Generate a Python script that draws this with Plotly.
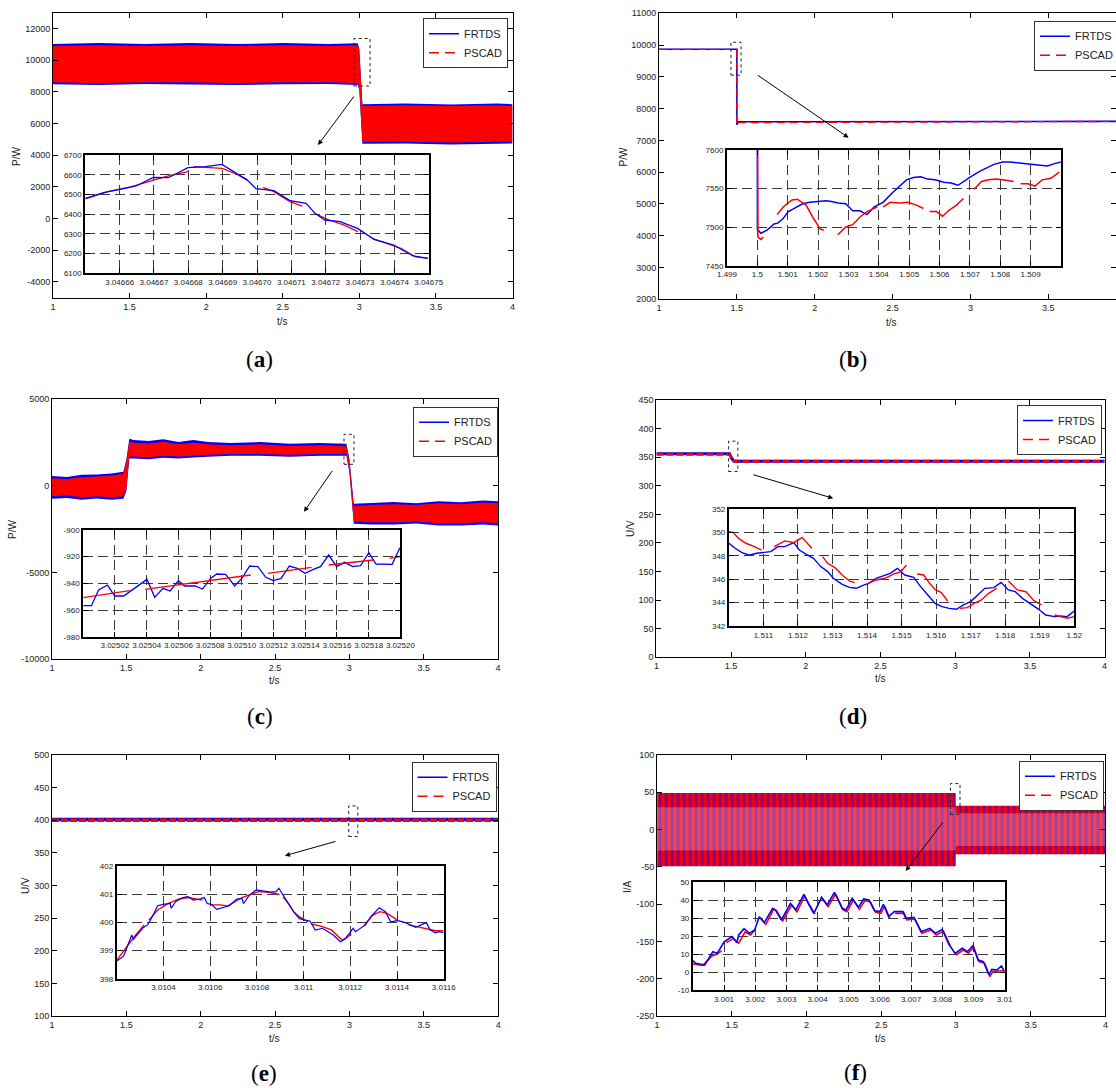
import plotly.graph_objects as go

W, H = 1116, 1088
BLUE, RED = "#0000ff", "#ff0000"
FONT = "Liberation Sans, Arial, Helvetica, sans-serif"
SERIF = "Liberation Serif, Times New Roman, serif"

# ======================= DATA =======================
main_x_ticks = [1, 1.5, 2, 2.5, 3, 3.5, 4]

# ---- (a) active power, band envelopes ----
a_y_ticks = [-4000, -2000, 0, 2000, 4000, 6000, 8000, 10000, 12000]
a_t = [1.0, 1.3, 1.6, 1.9, 2.2, 2.5, 2.8, 2.99, 3.0, 3.02, 3.3, 3.6, 3.9, 4.0]
a_red_hi = [10900, 10950, 10900, 10950, 10900, 10950, 10900, 10950, 10600, 7100, 7150, 7100, 7150, 7100]
a_red_lo = [8600, 8550, 8600, 8600, 8550, 8600, 8600, 8550, 8200, 4850, 4850, 4800, 4850, 4850]
a_blu_hi = [11020, 11080, 11030, 11080, 11020, 11080, 11030, 11070, 10700, 7220, 7270, 7210, 7270, 7220]
a_blu_lo = [8480, 8430, 8490, 8470, 8430, 8480, 8490, 8430, 8100, 4730, 4740, 4680, 4730, 4740]
a_in_x_ticks = [3.04666, 3.04667, 3.04668, 3.04669, 3.04670, 3.04671, 3.04672, 3.04673, 3.04674, 3.04675]
a_in_x_text = ["3.04666", "3.04667", "3.04668", "3.04669", "3.04670", "3.04671", "3.04672", "3.04673", "3.04674", "3.04675"]
a_in_y_ticks = [6100, 6200, 6300, 6400, 6500, 6600, 6700]
a_in_t_frtds = [3.0466500, 3.0466554, 3.0466648, 3.0466698, 3.0466742, 3.0466799, 3.0466851, 3.0466898,
                3.0466940, 3.0466971, 3.0466997, 3.0467049, 3.0467096, 3.0467143, 3.0467169, 3.0467198,
                3.0467242, 3.0467294, 3.0467341, 3.0467398, 3.0467455, 3.0467498]
a_in_frtds = [6481, 6510, 6544, 6588, 6586, 6637, 6642, 6654, 6608, 6575, 6530, 6520, 6470, 6456, 6405,
              6371, 6363, 6327, 6273, 6244, 6188, 6176]
a_in_t_pscad = [3.0466500, 3.0466565, 3.0466627, 3.0466690, 3.0466742, 3.0466799, None,
                3.0466815, 3.0466851, 3.0466898, 3.0466940, 3.0466971, None,
                3.0467018, 3.0467049, 3.0467096, 3.0467132, None,
                3.0467174, 3.0467210, 3.0467252, 3.0467294, None,
                3.0467335, 3.0467377, 3.0467419, 3.0467460, 3.0467497]
a_in_pscad = [6478, 6515, 6537, 6569, 6595, 6617, None,
              6642, 6639, 6634, 6605, 6575, None,
              6537, 6515, 6464, 6442, None,
              6400, 6371, 6346, 6312, None,
              6278, 6253, 6227, 6185, 6176]

# ---- (b) active power step ----
b_y_ticks = [2000, 3000, 4000, 5000, 6000, 7000, 8000, 9000, 10000, 11000]
b_x_ticks = [1, 1.5, 2, 2.5, 3, 3.5]
b_t = [1.0, 1.5, 1.5, 1.502, 1.51, 4.0]
b_frtds = [9870, 9870, 7495, 7530, 7585, 7600]
b_pscad = [9865, 9865, 7485, 7535, 7560, 7600]
b_in_x_ticks = [1.499, 1.5, 1.501, 1.502, 1.503, 1.504, 1.505, 1.506, 1.507, 1.508, 1.509]
b_in_x_text = ["1.499", "1.5", "1.501", "1.502", "1.503", "1.504", "1.505", "1.506", "1.507", "1.508", "1.509"]
b_in_y_ticks = [7450, 7500, 7550, 7600]
b_in_t_frtds = [1.5, 1.5, 1.50012, 1.50032, 1.50055, 1.50067, 1.50085, 1.50102, 1.50126, 1.50149, 1.50173,
                1.50196, 1.50226, 1.50244, 1.50267, 1.50291, 1.50314, 1.50338, 1.50361, 1.50385, 1.50414,
                1.50444, 1.50467, 1.50491, 1.50514, 1.50538, 1.50561, 1.50585, 1.50614, 1.50638, 1.50661,
                1.50679, 1.50702, 1.50732, 1.50755, 1.50779, 1.50808, 1.50832, 1.50855, 1.50879, 1.50902,
                1.50932, 1.50955, 1.50979, 1.51]
b_in_frtds = [7700, 7497, 7492, 7496, 7504, 7505, 7511, 7520, 7525, 7530, 7532,
              7533, 7534, 7533, 7531, 7530, 7521, 7521, 7516, 7526, 7532,
              7544, 7552, 7561, 7564, 7565, 7562, 7561, 7558, 7557, 7554,
              7559, 7565, 7572, 7576, 7581, 7584, 7584, 7583, 7582, 7581,
              7580, 7579, 7582, 7584]
b_in_t_pscad = [1.5, 1.50002, 1.50011, 1.5002, None,
                1.50065, 1.50085, 1.50114, 1.50132, 1.50161, 1.50185, 1.50208, 1.5022, None,
                1.50265, 1.50291, 1.50314, 1.50338, 1.50361, 1.50396, None,
                1.50414, 1.50438, 1.50467, 1.50496, 1.50526, 1.50547, None,
                1.50567, 1.5059, 1.5061, 1.50632, 1.50655, 1.50679, None,
                1.50714, 1.50738, 1.50761, 1.50785, 1.50808, 1.50844, None,
                1.50867, 1.50891, 1.50914, 1.50938, 1.50967, 1.50994]
b_in_pscad = [7700, 7487, 7484, 7487, None,
              7516, 7526, 7535, 7536, 7528, 7511, 7497, 7496, None,
              7490, 7500, 7503, 7513, 7520, 7526, None,
              7526, 7532, 7531, 7532, 7528, 7524, None,
              7520, 7520, 7514, 7522, 7528, 7537, None,
              7549, 7559, 7561, 7562, 7561, 7559, None,
              7556, 7556, 7553, 7561, 7563, 7571]

# ---- (c) active power, band envelopes ----
c_y_ticks = [-10000, -5000, 0, 5000]
c_t = [1.0, 1.1, 1.2, 1.3, 1.4, 1.48, 1.5, 1.52, 1.55, 1.65, 1.75, 1.85, 1.95, 2.05, 2.2, 2.4, 2.6,
       2.8, 2.98, 3.0, 3.03, 3.15, 3.3, 3.45, 3.6, 3.75, 3.9, 4.0]
c_red_hi = [450, 400, 500, 550, 600, 700, 1400, 2550, 2500, 2450, 2550, 2400, 2500, 2400, 2350, 2400, 2300,
            2350, 2300, 1500, -1150, -1100, -1050, -1100, -1000, -1050, -950, -1000]
c_red_lo = [-600, -550, -650, -600, -650, -600, -200, 1700, 1700, 1650, 1750, 1700, 1750, 1800, 1850, 1850, 1800,
            1850, 1850, 900, -2050, -2100, -2100, -2050, -2150, -2150, -2100, -2150]
c_blu_hi = [580, 520, 640, 660, 720, 820, 1500, 2720, 2650, 2600, 2700, 2540, 2650, 2530, 2480, 2530, 2430,
            2480, 2430, 1600, -1030, -980, -930, -990, -880, -940, -840, -880]
c_blu_lo = [-740, -690, -790, -730, -800, -740, -300, 1590, 1580, 1540, 1630, 1590, 1640, 1690, 1740, 1740, 1690,
            1740, 1740, 800, -2180, -2230, -2230, -2170, -2280, -2280, -2230, -2280]
c_in_x_ticks = [3.02502, 3.02504, 3.02506, 3.02508, 3.02510, 3.02512, 3.02514, 3.02516, 3.02518, 3.02520]
c_in_x_text = ["3.02502", "3.02504", "3.02506", "3.02508", "3.02510", "3.02512", "3.02514", "3.02516", "3.02518", "3.02520"]
c_in_y_ticks = [-980, -960, -940, -920, -900]
c_in_t_frtds = [3.025, 3.0250052, 3.0250097, 3.0250153, 3.0250199, 3.0250255, 3.0250323, 3.0250402, 3.0250451,
                3.0250503, 3.0250548, 3.02506, 3.0250639, 3.0250706, 3.0250752, 3.0250803, 3.0250842, 3.0250898,
                3.0250955, 3.0251, 3.025105, 3.0251101, 3.0251151, 3.0251198, 3.0251248, 3.02513, 3.025135,
                3.0251399, 3.0251451, 3.0251496, 3.0251548, 3.0251598, 3.0251648, 3.02517, 3.0251749, 3.0251801,
                3.0251846, 3.0251948, 3.0251997]
c_in_frtds = [-956.75, -956.75, -945, -941.25, -949.5, -949.5, -943.75, -937, -950.5,
              -943.75, -945.75, -938, -942, -942, -944.25, -936.25, -933, -933.25,
              -942, -936.25, -927, -927.5, -935.5, -938, -936.25, -927, -928.75,
              -932.5, -929.5, -927.5, -918.75, -927.5, -924.25, -927.5, -926.75, -917,
              -925.5, -925.75, -913.25]
c_in_t_pscad = [3.025, 3.0250293, None, 3.025039, 3.0251056, None, 3.0251165, 3.025144, None,
                3.0251548, 3.0251828, None, 3.0251932, 3.0251997]
c_in_pscad = [-950.75, -945.5, None, -944.5, -933.75, None, -932.5, -928, None,
              -926.25, -922.5, None, -921.25, -920]

# ---- (d) voltage ----
d_y_ticks = [0, 50, 100, 150, 200, 250, 300, 350, 400, 450]
d_t = [1.0, 1.49, 1.5, 1.52, 4.0]
d_frtds = [356, 356, 349, 343, 343]
d_pscad = [355, 355, 350, 343, 343]
d_in_x_ticks = [1.511, 1.512, 1.513, 1.514, 1.515, 1.516, 1.517, 1.518, 1.519, 1.52]
d_in_x_text = ["1.511", "1.512", "1.513", "1.514", "1.515", "1.516", "1.517", "1.518", "1.519", "1.52"]
d_in_y_ticks = [342, 344, 346, 348, 350, 352]
d_in_t_frtds = [1.51, 1.51018, 1.51038, 1.51059, 1.5108, 1.511, 1.51121, 1.51142, 1.51162, 1.51188,
                1.51204, 1.51224, 1.51245, 1.51266, 1.51286, 1.51302, 1.51328, 1.51349, 1.51369, 1.5139,
                1.51405, 1.51426, 1.51447, 1.51467, 1.51488, 1.51509, 1.51535, 1.51555, 1.51576, 1.51597,
                1.51617, 1.51638, 1.51659, 1.51679, 1.517, 1.51721, 1.51741, 1.51767, 1.51788, 1.51809,
                1.51829, 1.5185, 1.51871, 1.51897, 1.51917, 1.51943, 1.51959, 1.51979, 1.52]
d_in_frtds = [349.09, 348.66, 348.29, 348.06, 348.23, 348.29, 348.37, 348.8, 348.8, 349.14,
              348.51, 348.14, 347.8, 347.09, 346.66, 346.09, 345.57, 345.31, 345.23, 345.51,
              345.66, 346.09, 346.29, 346.51, 346.94, 346.37, 346.17, 345.37, 344.66, 343.94,
              343.66, 343.51, 343.43, 343.8, 344.09, 344.66, 345.23, 345.29, 345.74, 345.09,
              344.94, 344.37, 343.94, 343.43, 342.94, 342.8, 342.86, 342.8, 343.29]
d_in_t_pscad = [1.51, 1.51012, 1.51028, 1.51049, 1.51074, 1.51095, None,
                1.51131, 1.51162, 1.51188, 1.51212, 1.5124, None,
                1.51271, 1.51286, 1.51307, 1.51328, 1.51349, 1.51364, None,
                1.51402, 1.51426, 1.51452, 1.51478, 1.51498, 1.51514, None,
                1.51545, 1.51564, 1.51581, 1.51597, 1.51615, 1.51633, None,
                1.51669, 1.5169, 1.5171, 1.51731, 1.51752, 1.51775, None,
                1.51809, 1.51835, 1.5186, 1.51881, 1.51905, None,
                1.51943, 1.51959, 1.51979, 1.52]
d_in_pscad = [350.09, 350.03, 349.51, 349.09, 348.8, 348.51, None,
              348.8, 349.29, 349.14, 349.6, 348.66, None,
              347.94, 347.37, 347.0, 346.37, 345.86, 345.71, None,
              345.66, 345.94, 346.09, 346.46, 346.66, 347.23, None,
              346.46, 346.37, 345.66, 345.14, 344.86, 344.14, None,
              343.51, 343.57, 343.94, 344.23, 344.8, 345.23, None,
              345.86, 345.09, 344.94, 344.23, 343.8, None,
              342.94, 342.8, 342.66, 342.8]

# ---- (e) voltage ----
e_y_ticks = [100, 150, 200, 250, 300, 350, 400, 450, 500]
e_t = [1.0, 4.0]
e_frtds = [401, 401]
e_pscad = [400, 400]
e_in_x_ticks = [3.0104, 3.0106, 3.0108, 3.011, 3.0112, 3.0114, 3.0116]
e_in_x_text = ["3.0104", "3.0106", "3.0108", "3.011", "3.0112", "3.0114", "3.0116"]
e_in_y_ticks = [398, 399, 400, 401, 402]
e_in_t_frtds = [3.0102, 3.010229, 3.010245, 3.010264, 3.010271, 3.010291, 3.010314, 3.010332, 3.010352,
                3.010375, 3.010398, 3.010429, 3.010433, 3.010452, 3.010482, 3.010505, 3.010528, 3.010551,
                3.010575, 3.010587, 3.010605, 3.010628, 3.010651, 3.010682, 3.010713, 3.010736, 3.010743,
                3.010766, 3.010797, 3.010828, 3.010858, 3.010882, 3.010894, 3.010912, 3.010935, 3.010958,
                3.010981, 3.011004, 3.011027, 3.01105, 3.011081, 3.0111, 3.011127, 3.011158, 3.011176,
                3.011196, 3.011212, 3.011222, 3.011242, 3.011265, 3.011288, 3.011324, 3.01135, 3.011373,
                3.011403, 3.011426, 3.011457, 3.01148, 3.011503, 3.011526, 3.011542, 3.011565, 3.01158, 3.0116]
e_in_frtds = [398.63, 398.8, 399.14, 399.55, 399.4, 399.61, 399.82, 399.91, 400.2,
              400.59, 400.64, 400.67, 400.5, 400.73, 400.88, 400.91, 400.79, 400.82,
              400.88, 400.67, 400.64, 400.46, 400.52, 400.59, 400.83, 400.85, 400.67,
              400.95, 401.15, 401.11, 401.07, 401.09, 401.21, 400.97, 400.67, 400.36,
              400.14, 400.08, 400.05, 399.73, 399.79, 399.69, 399.55, 399.31, 399.4,
              399.61, 399.79, 399.67, 399.79, 399.91, 400.2, 400.52, 400.38, 400.02,
              400.06, 400.02, 399.91, 399.82, 399.91, 399.99, 399.73, 399.63, 399.67, 399.63]
e_in_t_pscad = [3.0102, 3.010237, 3.010275, 3.010317, None,
                3.010337, 3.010375, 3.010421, 3.010467, 3.010505, 3.010544, 3.010567, None,
                3.010605, 3.010644, 3.010674, 3.010705, 3.010736, 3.010774, 3.010805, 3.010851, 3.010897, None,
                3.010912, 3.010935, 3.010958, 3.010981, 3.01102, None,
                3.011035, 3.011081, 3.011119, 3.01115, 3.011165, 3.011185, 3.011204, None,
                3.011258, 3.011296, 3.011327, 3.011357, 3.011403, None,
                3.01145, 3.011511, 3.011565, 3.0116]
e_in_pscad = [398.66, 399.08, 399.49, 399.91, None,
              400.08, 400.44, 400.67, 400.83, 400.88, 400.82, 400.79, None,
              400.62, 400.62, 400.58, 400.73, 400.88, 400.99, 401.09, 401.07, 400.99, None,
              400.91, 400.67, 400.38, 400.2, 400.02, None,
              399.94, 399.85, 399.73, 399.47, 399.37, 399.46, 399.59, None,
              399.88, 400.26, 400.38, 400.32, 400.08, None,
              399.91, 399.79, 399.7, 399.7]

# ---- (f) current, band envelopes ----
f_y_ticks = [-250, -200, -150, -100, -50, 0, 50, 100]
f_t = [1.0, 2.998, 2.999, 4.0]
f_hi = [49, 49, 32, 32]
f_lo = [-49, -49, -33, -33]
f_mid_hi = [30, 30, 22, 22]
f_mid_lo = [-28, -28, -22, -22]
f_in_x_ticks = [3.001, 3.002, 3.003, 3.004, 3.005, 3.006, 3.007, 3.008, 3.009, 3.01]
f_in_x_text = ["3.001", "3.002", "3.003", "3.004", "3.005", "3.006", "3.007", "3.008", "3.009", "3.01"]
f_in_y_ticks = [-10, 0, 10, 20, 30, 40, 50]
f_in_t_frtds = [3.0, 3.00009, 3.00038, 3.00064, 3.00078, 3.00101, 3.00126, 3.00141, 3.00147, 3.00164,
                3.00181, 3.00198, 3.00213, 3.00229, 3.00256, 3.00265, 3.00284, 3.00313, 3.0033, 3.00356,
                3.0037, 3.00388, 3.00413, 3.00431, 3.00454, 3.00479, 3.00491, 3.00511, 3.00531, 3.00548,
                3.00565, 3.00583, 3.006, 3.00611, 3.00628, 3.00646, 3.00674, 3.00683, 3.00709, 3.00732,
                3.0076, 3.00778, 3.008, 3.00821, 3.00841, 3.00864, 3.00881, 3.00898, 3.00915, 3.00932,
                3.0095, 3.00959, 3.00975, 3.0099, 3.01]
f_in_frtds = [6.3, 4.81, 3.89, 11.3, 10.37, 16.85, 19.63, 16.3, 20.56, 24.07,
              21.48, 23.33, 30.74, 27.41, 35.37, 34.44, 28.89, 38.15, 34.44, 43.15,
              38.15, 32.59, 41.48, 37.22, 44.26, 35.37, 34.44, 40.93, 35.93, 40.56,
              40.0, 34.07, 33.52, 37.59, 30.74, 33.52, 33.52, 29.81, 30.37, 22.41,
              24.26, 21.48, 23.7, 15.56, 10.37, 13.15, 11.3, 14.63, 6.67, 5.74,
              -1.67, 1.48, 1.11, 3.33, 0.19]
f_in_t_pscad = [3.0, 3.00032, 3.00061, 3.00078, 3.00092, None,
                3.00107, 3.0013, 3.00147, 3.00167, 3.00185, 3.00202, None,
                3.00218, 3.00234, 3.00259, 3.00268, 3.00288, 3.00317, 3.00334, 3.00359, 3.00374, 3.00391, None,
                3.00416, 3.00434, 3.00458, 3.00482, 3.00494, 3.00515, 3.00534, 3.00552, 3.00569, 3.00586,
                3.00603, 3.00615, 3.00632, None,
                3.00649, 3.00678, 3.00687, 3.00712, 3.00735, 3.00764, 3.00781, 3.00804, 3.00825, None,
                3.00844, 3.00867, 3.00884, 3.00901, 3.00918, 3.00936, 3.00953, 3.00962, 3.00978, 3.01]
f_in_pscad = [4.44, 3.7, 8.89, 10.0, 11.85, None,
              16.3, 18.52, 15.93, 22.22, 20.56, 23.89, None,
              29.81, 26.48, 34.81, 34.07, 28.33, 37.22, 33.52, 42.22, 37.22, 32.22, None,
              40.37, 36.3, 43.33, 34.44, 33.52, 40.0, 34.81, 39.63, 39.07, 33.15,
              32.59, 36.67, 29.81, None,
              32.59, 32.59, 28.89, 29.44, 21.48, 23.33, 20.56, 22.78, 14.63, None,
              9.44, 12.22, 10.37, 13.7, 5.74, 4.81, -2.59, 0.19, 0.56, 0.74]

# ======================= LAYOUT GEOMETRY (pixels) =======================
MAIN = [  # left, right, top, bottom
    (53, 512.5, 12.7, 297.7),
    (659, 1116, 13.3, 299.3),
    (52, 498, 399.3, 659.3),
    (656.4, 1104.6, 400, 657.3),
    (52, 498.2, 755, 1016),
    (657.1, 1105.4, 755, 1016.3),
]
INSET = [
    (85.3, 428.7, 155.3, 273.3),
    (727, 1061, 149.7, 265.7),
    (83.2, 400.4, 530, 636.7),
    (728.9, 1074.3, 509.3, 626),
    (116.8, 443.7, 866, 978.7),
    (692.9, 1004.6, 882, 990),
]
MAIN_XR = [[1, 4], [1, 3.935], [1, 4], [1, 4], [1, 4], [1, 4]]
MAIN_YR = [[-5000, 13000], [2000, 11000], [-10000, 5000], [0, 450], [100, 500], [-250, 100]]
MAIN_XT = [main_x_ticks, b_x_ticks, main_x_ticks, main_x_ticks, main_x_ticks, main_x_ticks]
MAIN_YT = [a_y_ticks, b_y_ticks, c_y_ticks, d_y_ticks, e_y_ticks, f_y_ticks]
IN_XR = [[3.04665, 3.04675], [1.499, 1.510], [3.025, 3.0252], [1.51, 1.52], [3.0102, 3.0116], [3.0, 3.01]]
IN_YR = [[6100, 6700], [7450, 7600], [-980, -900], [342, 352], [398, 402], [-10, 50]]
IN_XT = [(a_in_x_ticks, a_in_x_text), (b_in_x_ticks, b_in_x_text), (c_in_x_ticks, c_in_x_text),
         (d_in_x_ticks, d_in_x_text), (e_in_x_ticks, e_in_x_text), (f_in_x_ticks, f_in_x_text)]
IN_YT = [a_in_y_ticks, b_in_y_ticks, c_in_y_ticks, d_in_y_ticks, e_in_y_ticks, f_in_y_ticks]


def dom(box):
    x0, x1, y0, y1 = box
    return [x0 / W, min(x1 / W, 1.0)], [1 - y1 / H, 1 - y0 / H]


def axis(domain, rng, tv, tt, anchor, inset):
    d = dict(domain=domain, range=rng, tickmode="array", tickvals=tv, ticktext=tt, anchor=anchor,
             showline=True, linecolor="black", linewidth=2 if inset else 1, mirror="ticks",
             ticks="inside", ticklen=5, tickwidth=1, tickcolor="black", zeroline=False,
             showgrid=inset, fixedrange=True,
             tickfont=dict(family=FONT, size=8 if inset else 9, color="#222"))
    if inset:
        d.update(gridcolor="#3a3a3a", griddash="10px,5px", gridwidth=1.2)
    return d


layout = dict(width=W, height=H, margin=dict(l=0, r=0, t=0, b=0, autoexpand=False),
              paper_bgcolor="white", plot_bgcolor="white", showlegend=True)

for i in range(6):
    n, m = i + 1, i + 7
    xd, yd = dom(MAIN[i])
    xk = "xaxis" if n == 1 else f"xaxis{n}"
    yk = "yaxis" if n == 1 else f"yaxis{n}"
    xa = "x" if n == 1 else f"x{n}"
    ya = "y" if n == 1 else f"y{n}"
    layout[xk] = axis(xd, MAIN_XR[i], MAIN_XT[i], [str(v) for v in MAIN_XT[i]], ya, False)
    layout[yk] = axis(yd, MAIN_YR[i], MAIN_YT[i], [str(v) for v in MAIN_YT[i]], xa, False)
    xd, yd = dom(INSET[i])
    layout[f"xaxis{m}"] = axis(xd, IN_XR[i], IN_XT[i][0], IN_XT[i][1], f"y{m}", True)
    layout[f"yaxis{m}"] = axis(yd, IN_YR[i], IN_YT[i], [str(v) for v in IN_YT[i]], f"x{m}", True)

fig = go.Figure(layout=layout)


def ax_names(n):
    return ("x" if n == 1 else f"x{n}"), ("y" if n == 1 else f"y{n}")


def band(n, t, hi, lo, color, **kw):
    xa, ya = ax_names(n)
    fig.add_trace(go.Scatter(x=list(t) + list(t)[::-1], y=list(hi) + list(lo)[::-1], fill="toself",
                             mode="none", fillcolor=color, xaxis=xa, yaxis=ya, showlegend=False,
                             hoverinfo="skip", **kw))


def line(n, t, y, color, width=1.3, dash=None, connect=False):
    xa, ya = ax_names(n)
    fig.add_trace(go.Scatter(x=t, y=y, mode="lines", line=dict(color=color, width=width, dash=dash),
                             xaxis=xa, yaxis=ya, showlegend=False, hoverinfo="skip", connectgaps=connect))


# ---- main plots ----
band(1, a_t, a_blu_hi, a_blu_lo, BLUE)
band(1, a_t, a_red_hi, a_red_lo, RED)
line(2, b_t, b_frtds, BLUE, 1.6)
line(2, b_t, b_pscad, RED, 1.4, "8px,5px")
band(3, c_t, c_blu_hi, c_blu_lo, BLUE)
band(3, c_t, c_red_hi, c_red_lo, RED)
line(4, d_t, d_frtds, BLUE, 3)
line(4, d_t, d_pscad, RED, 3, "7px,3px")
line(5, e_t, e_frtds, BLUE, 3.5)
line(5, e_t, e_pscad, RED, 3.5, "7px,2px")
band(6, f_t, f_hi, f_lo, RED,
     fillpattern=dict(shape="|", fgcolor=BLUE, bgcolor=RED, size=6, solidity=0.45))
band(6, f_t, f_mid_hi, f_mid_lo, "rgba(225,215,255,0.3)")

# ---- insets ----
line(7, a_in_t_pscad, a_in_pscad, RED, 1.3)
line(7, a_in_t_frtds, a_in_frtds, BLUE, 1.3)
line(8, b_in_t_frtds, b_in_frtds, BLUE, 1.5)
line(8, b_in_t_pscad, b_in_pscad, RED, 1.5)
line(9, c_in_t_frtds, c_in_frtds, BLUE, 1.3)
line(9, c_in_t_pscad, c_in_pscad, RED, 1.3)
line(10, d_in_t_frtds, d_in_frtds, BLUE, 1.4)
line(10, d_in_t_pscad, d_in_pscad, RED, 1.4)
line(11, e_in_t_pscad, e_in_pscad, RED, 1.4)
line(11, e_in_t_frtds, e_in_frtds, BLUE, 1.2)
line(12, f_in_t_pscad, f_in_pscad, RED, 1.6)
line(12, f_in_t_frtds, f_in_frtds, BLUE, 1.6)

# ---- legends ----
LEG = [(423, 18.3), (1034, 20.7), (413, 406.7), (1017, 405), (411.5, 761.7), (1019, 760.7)]
for i, (lx, ly) in enumerate(LEG):
    key = "legend" if i == 0 else f"legend{i + 1}"
    layout_leg = dict(x=lx / W, y=1 - ly / H, xanchor="left", yanchor="top", bgcolor="white",
                      bordercolor="#333", borderwidth=1, font=dict(family=FONT, size=11, color="#222"),
                      itemwidth=30, tracegroupgap=0, traceorder="normal")
    fig.update_layout({key: layout_leg})
    xa, ya = ax_names(i + 1)
    fig.add_trace(go.Scatter(x=[None], y=[None], mode="lines", name="FRTDS", legend=key,
                             line=dict(color=BLUE, width=1.5), xaxis=xa, yaxis=ya))
    fig.add_trace(go.Scatter(x=[None], y=[None], mode="lines", name="PSCAD", legend=key,
                             line=dict(color=RED, width=1.5, dash="10px,6px"), xaxis=xa, yaxis=ya))

# ---- zoom rectangles ----
RECTS = [(1, 2.965, 3.07, 8370, 11370), (2, 1.462, 1.527, 9053, 10090), (3, 2.964, 3.031, 1250, 2980),
         (4, 1.483, 1.545, 325, 378), (5, 2.995, 3.056, 375, 422), (6, 2.963, 3.027, 20.5, 61.7)]
for n, x0, x1, y0, y1 in RECTS:
    xa, ya = ax_names(n)
    fig.add_shape(type="rect", xref=xa, yref=ya, x0=x0, x1=x1, y0=y0, y1=y1,
                  line=dict(color="#222", width=1, dash="dot"), layer="above")

ann = []
# arrows (tail -> head), pixels
ARROWS = [((355, 95), (318, 145)), ((756.4, 74.3), (848.6, 137.7)), ((333.3, 469.3), (304, 511.7)),
          ((751.8, 474.3), (833.2, 498.3)), ((337, 841), (285, 855.7)), ((943.9, 821), (905.7, 871))]
for (tx, ty), (hx, hy) in ARROWS:
    ann.append(dict(xref="paper", yref="paper", x=hx / W, y=1 - hy / H, ax=tx - hx, ay=ty - hy,
                    axref="pixel", ayref="pixel", showarrow=True, arrowhead=2, arrowsize=1,
                    arrowwidth=1, arrowcolor="black", text="", standoff=0))
# axis titles
YLAB = [("P/W", 16, 157), ("P/W", 622.5, 157), ("P/W", 13, 530), ("U/V", 630, 529), ("U/V", 25, 886),
        ("I/A", 627, 886)]
for txt, x, y in YLAB:
    ann.append(dict(xref="paper", yref="paper", x=x / W, y=1 - y / H, text=txt, showarrow=False,
                    textangle=-90, font=dict(family=FONT, size=10, color="#222"),
                    xanchor="center", yanchor="middle"))
XLAB = [(282, 322), (891, 322.7), (274, 680.7), (880, 678), (274, 1038), (880, 1038)]
for x, y in XLAB:
    ann.append(dict(xref="paper", yref="paper", x=x / W, y=1 - y / H, text="t/s", showarrow=False,
                    font=dict(family=FONT, size=10, color="#222"), xanchor="center", yanchor="middle"))
PLAB = [("a", 259, 360), ("b", 853, 359), ("c", 260, 716), ("d", 853, 716), ("e", 264, 1073),
        ("f", 855, 1072)]
for t, x, y in PLAB:
    ann.append(dict(xref="paper", yref="paper", x=x / W, y=1 - y / H, text=f"(<b>{t}</b>)",
                    showarrow=False, font=dict(family=SERIF, size=23, color="black"),
                    xanchor="center", yanchor="middle"))
fig.update_layout(annotations=ann)

fig.write_html("out.html", config={"displayModeBar": False},
               post_script="document.body.style.margin='0';document.body.style.overflow='hidden';")
